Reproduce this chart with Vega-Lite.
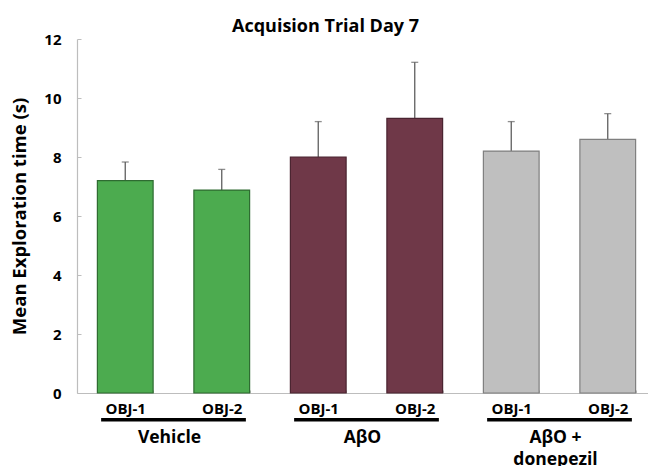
{
  "$schema": "https://vega.github.io/schema/vega-lite/v6.json",
  "width": 571,
  "height": 354,
  "autosize": "none",
  "padding": {"left": 77, "top": 39, "right": 0, "bottom": 73},
  "background": "#ffffff",
  "title": {"text": "Acquision Trial Day 7", "font": "Open Sans", "fontSize": 18, "fontWeight": "bold", "color": "#000000", "anchor": "middle", "frame": "group", "dx": -37, "offset": -4},
  "config": {"view": {"stroke": null}, "font": "Open Sans"},
  "datasets": {
    "bars": [
      {"group": "Vehicle", "key": "Vehicle|OBJ-1", "mean": 7.2, "upper": 7.83},
      {"group": "Vehicle", "key": "Vehicle|OBJ-2", "mean": 6.88, "upper": 7.58},
      {"group": "AβO", "key": "AβO|OBJ-1", "mean": 8.0, "upper": 9.2},
      {"group": "AβO", "key": "AβO|OBJ-2", "mean": 9.31, "upper": 11.21},
      {"group": "AβO + donepezil", "key": "AβO + donepezil|OBJ-1", "mean": 8.2, "upper": 9.2},
      {"group": "AβO + donepezil", "key": "AβO + donepezil|OBJ-2", "mean": 8.6, "upper": 9.47}
    ],
    "groups": [
      {"group": "Vehicle", "label": "Vehicle"},
      {"group": "AβO", "label": "AβO"},
      {"group": "AβO + donepezil", "label": "AβO +\ndonepezil"}
    ]
  },
  "layer": [
    {
      "data": {"name": "bars"},
      "encoding": {
        "x": {
          "field": "key", "type": "nominal", "sort": null,
          "scale": {"range": [0, 579], "paddingInner": 0.4225, "paddingOuter": 0.21125},
          "axis": {
            "title": null,
            "labelExpr": "split(datum.value, '|')[1]",
            "labelAngle": 0,
            "labelFont": "Open Sans", "labelFontSize": 15, "labelFontWeight": "bold", "labelColor": "#000000",
            "labelPadding": 11,
            "tickBand": "extent", "tickSize": -3, "tickColor": "#BDBDBD", "tickWidth": 1,
            "domainColor": "#BDBDBD", "domainWidth": 1.2
          }
        }
      },
      "layer": [
        {
          "mark": {"type": "rule", "color": "#5f5f5f", "strokeWidth": 1.3},
          "encoding": {
            "y": {"field": "mean", "type": "quantitative", "scale": {"domain": [0, 12]},
              "axis": {
                "title": "Mean Exploration time (s)",
                "titleFont": "Open Sans", "titleFontSize": 18.5, "titleFontWeight": "bold", "titleColor": "#000000", "titlePadding": 14,
                "values": [0, 1, 2, 3, 4, 5, 6, 7, 8, 9, 10, 11, 12],
                "labelExpr": "datum.value % 2 === 0 ? datum.label : ''",
                "labelFont": "Open Sans", "labelFontSize": 15, "labelFontWeight": "bold", "labelColor": "#000000",
                "labelPadding": 20, "labelFlush": false,
                "tickSize": -4, "tickColor": "#BDBDBD", "domainColor": "#BDBDBD", "domainWidth": 1.2, "grid": false
              }
            },
            "y2": {"field": "upper"}
          }
        },
        {
          "mark": {"type": "tick", "color": "#5f5f5f", "size": 7, "thickness": 1.3},
          "encoding": {"y": {"field": "upper", "type": "quantitative"}}
        },
        {
          "mark": {"type": "bar", "strokeWidth": 1.2},
          "encoding": {
            "y": {"field": "mean", "type": "quantitative"},
            "color": {"field": "group", "type": "nominal", "legend": null,
              "scale": {"domain": ["Vehicle", "AβO", "AβO + donepezil"], "range": ["#4CAB4F", "#6F3848", "#BFBFBF"]}},
            "stroke": {"field": "group", "type": "nominal", "legend": null,
              "scale": {"domain": ["Vehicle", "AβO", "AβO + donepezil"], "range": ["#2E6B31", "#4A2430", "#7F7F7F"]}}
          }
        }
      ]
    },
    {
      "data": {"name": "groups"},
      "encoding": {
        "x": {"field": "group", "type": "nominal", "sort": null,
          "scale": {"range": [0, 579], "paddingInner": 0.25, "paddingOuter": 0.125}, "axis": null}
      },
      "layer": [
        {
          "mark": {"type": "rule", "color": "#000000", "strokeWidth": 3.5},
          "encoding": {
            "x": {"field": "group", "type": "nominal", "sort": null, "bandPosition": 0},
            "x2": {"field": "group", "bandPosition": 1},
            "y": {"datum": -0.908, "type": "quantitative"}
          }
        },
        {
          "mark": {"type": "text", "font": "Open Sans", "fontSize": 17.5, "fontWeight": "bold", "color": "#000000", "baseline": "alphabetic", "align": "center", "lineBreak": "\n", "lineHeight": 22, "dx": -4},
          "encoding": {
            "x": {"field": "group", "type": "nominal", "sort": null, "bandPosition": 0.5},
            "y": {"datum": -1.69, "type": "quantitative"},
            "text": {"field": "label"}
          }
        }
      ]
    }
  ],
  "resolve": {"scale": {"x": "independent"}}
}
